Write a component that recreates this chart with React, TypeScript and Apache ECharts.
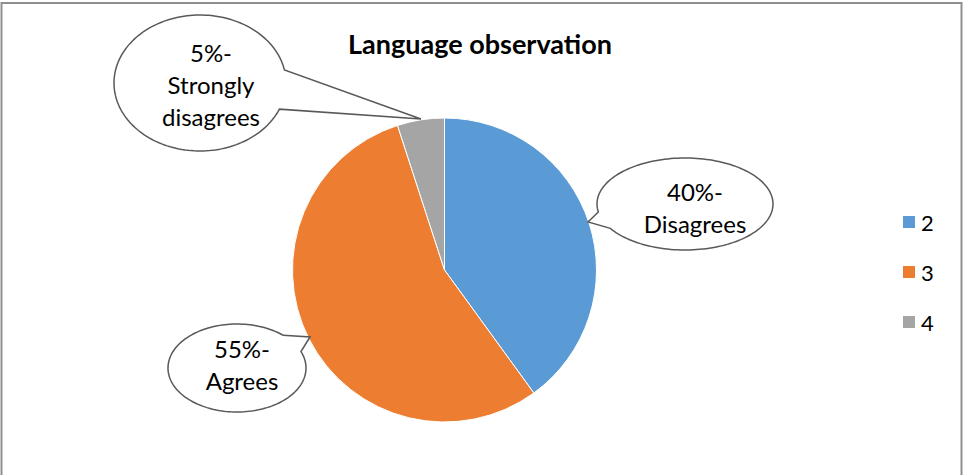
import React, { useEffect, useRef } from "react";
import * as echarts from "echarts";

const titleText = "Language observation";
const categories = ["2", "3", "4"];
const values = [40, 55, 5];
const descriptions = ["Disagrees", "Agrees", "Strongly\ndisagrees"];
const colors = ["#5B9BD5", "#ED7D31", "#A5A5A5"];

const FONT = "Lato, 'Open Sans', sans-serif";

// bubble geometry per category: ellipse center, radii, wedge gap angles (deg), tip, text center
const bubbles = [
  { cx: 685, cy: 204, rx: 88, ry: 46, a1: 148, a2: 170, tip: [588, 222], tx: 695, ty: 207 },
  { cx: 237, cy: 368, rx: 69, ry: 44, a1: -48, a2: -22, tip: [310, 337], tx: 242, ty: 364 },
  { cx: 200, cy: 83, rx: 86, ry: 68, a1: -11, a2: 22.6, tip: [421, 119], tx: 211, ty: 84 },
];

function bubblePoints(b: any) {
  const pts: number[][] = [];
  pts.push(b.tip);
  const start = b.a2;
  const end = b.a1 + 360;
  const n = 160;
  for (let i = 0; i <= n; i++) {
    const a = ((start + ((end - start) * i) / n) * Math.PI) / 180;
    pts.push([b.cx + b.rx * Math.cos(a), b.cy + b.ry * Math.sin(a)]);
  }
  return pts;
}

export default function App() {
  const ref = useRef<HTMLDivElement>(null);
  useEffect(() => {
    if (!ref.current) return;
    const chart = echarts.init(ref.current, undefined, { renderer: "svg" });
    const graphics: any[] = [
      {
        type: "rect",
        shape: { x: 1.5, y: 3, width: 960, height: 490 },
        style: { fill: "none", stroke: "#8f8f8f", lineWidth: 2 },
        silent: true,
        z: 0,
      },
    ];
    bubbles.forEach((b, i) => {
      graphics.push({
        type: "polygon",
        shape: { points: bubblePoints(b) },
        style: { fill: "#ffffff", stroke: "#595959", lineWidth: 1.5 },
        z: 10,
      });
      graphics.push({
        type: "text",
        x: b.tx,
        y: b.ty,
        z: 11,
        style: {
          text: `${values[i]}%-\n${descriptions[i]}`,
          fontSize: 24,
          fontFamily: FONT,
          fill: "#000000",
          align: "center",
          verticalAlign: "middle",
          lineHeight: 32,
        },
      });
    });
    graphics.push({
      type: "text",
      x: 480,
      y: 43,
      z: 11,
      style: {
        text: titleText,
        fontSize: 27,
        fontWeight: "bold",
        fontFamily: FONT,
        fill: "#000000",
        align: "center",
        verticalAlign: "middle",
      },
    });
    chart.setOption({
      animation: false,
      color: colors,
      legend: {
        orient: "vertical",
        left: 896,
        top: 206,
        padding: 5,
        icon: "rect",
        itemWidth: 14,
        itemHeight: 14,
        itemGap: 28,
        textStyle: { fontSize: 22, fontFamily: FONT, color: "#000", lineHeight: 20 },
        data: categories,
      },
      series: [
        {
          type: "pie",
          center: [444.5, 270],
          radius: 152,
          startAngle: 90,
          clockwise: true,
          label: { show: false },
          labelLine: { show: false },
          emphasis: { disabled: true },
          itemStyle: { borderColor: "#ffffff", borderWidth: 1 },
          data: categories.map((c, i) => ({ name: c, value: values[i] })),
        },
      ],
      graphic: graphics,
    });
    return () => chart.dispose();
  }, []);
  return (
    <div
      ref={ref}
      style={{ position: "fixed", left: 0, top: 0, width: 963, height: 475, background: "#fff" }}
    />
  );
}
